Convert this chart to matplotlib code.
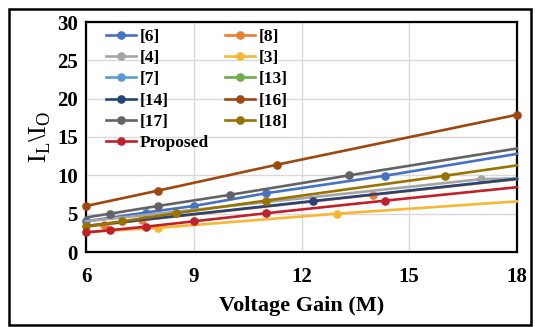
import matplotlib
matplotlib.use("Agg")
import matplotlib.pyplot as plt
from matplotlib.patches import Rectangle

plt.rcParams["font.family"] = "Liberation Serif"
plt.rcParams["font.weight"] = "bold"
plt.rcParams["mathtext.fontset"] = "custom"
plt.rcParams["mathtext.rm"] = "Liberation Serif:bold"
plt.rcParams["mathtext.bf"] = "Liberation Serif:bold"

labels = ["[6]", "[8]", "[4]", "[3]", "[7]", "[13]", "[14]", "[16]", "[17]", "[18]", "Proposed"]
colors = ["#4472C4", "#ED7D31", "#A5A5A5", "#F9B633", "#5B9BD5", "#70AD47",
          "#264478", "#9E480E", "#636363", "#997300", "#C0202A"]

# voltage gain (M) and IL/IO, with the points that carry a marker
x6 = [6, 7.67, 9, 11, 14.33, 18]
y6 = [4.0, 5.15, 6.0, 7.65, 9.95, 12.8]
m6 = [0, 1, 2, 3, 4]

x8 = [6, 6.5, 7.55, 14, 18]
y8 = [3.3, 3.57, 4.15, 7.46, 9.5]
m8 = [1, 2, 3]

x4 = [6, 17, 18]
y4 = [4.0, 9.5, 9.6]
m4 = [1]

x3 = [6, 8, 13, 18]
y3 = [2.6, 3.15, 5.0, 6.6]
m3 = [1, 2]

x7, y7, m7 = [], [], []
x13, y13, m13 = [], [], []

x14 = [6, 12.33, 18]
y14 = [3.4, 6.65, 9.55]
m14 = [1]

x16 = [6, 8, 11.33, 18]
y16 = [6.0, 8.0, 11.4, 17.9]
m16 = [0, 1, 2, 3]

x17 = [6, 6.67, 8, 10, 13.33, 18]
y17 = [4.5, 5.0, 6.0, 7.45, 10.0, 13.5]
m17 = [1, 2, 3, 4]

x18 = [6, 7, 8.5, 11, 16, 18]
y18 = [3.35, 4.0, 5.05, 6.7, 9.95, 11.3]
m18 = [0, 1, 2, 3, 4]

xp = [6, 6.67, 7.67, 9, 11, 14.33, 18]
yp = [2.55, 2.85, 3.3, 4.0, 5.05, 6.7, 8.45]
mp = [0, 1, 2, 3, 4, 5]

series = [(x6, y6, m6), (x8, y8, m8), (x4, y4, m4), (x3, y3, m3), (x7, y7, m7),
          (x13, y13, m13), (x14, y14, m14), (x16, y16, m16), (x17, y17, m17),
          (x18, y18, m18), (xp, yp, mp)]

fig = plt.figure(figsize=(5.35, 3.27), dpi=100)
ax = fig.add_axes([86 / 535, 75 / 327, 431 / 535, 230 / 327])

handles = []
for (xs, ys, mk), lab, c in zip(series, labels, colors):
    h, = ax.plot(xs, ys, color=c, lw=1.9, marker="o", ms=5.2, markevery=mk if mk else None,
                 label=lab, clip_on=False, zorder=3)
    handles.append(h)

ax.set_xlim(6, 18)
ax.set_ylim(0, 30)
ax.set_xticks([6, 9, 12, 15, 18])
ax.set_yticks([0, 5, 10, 15, 20, 25, 30])
ax.grid(True, color="#D9D9D9", lw=1.0)
ax.set_axisbelow(True)
for s in ax.spines.values():
    s.set_linewidth(1.6)
    s.set_color("black")
ax.tick_params(length=0, labelsize=15)
ax.tick_params(axis="x", pad=11)
ax.tick_params(axis="y", pad=6)

ax.set_xlabel("Voltage Gain (M)", fontsize=16, fontweight="bold", labelpad=6)
ax.set_ylabel(r"I$_\mathregular{L}$\I$_\mathregular{O}$", fontsize=19, labelpad=3)

# legend filled row by row, like the original
order = list(range(0, 11, 2)) + list(range(1, 11, 2))
ax.legend([handles[i] for i in order], [labels[i] for i in order],
          ncol=2, loc="upper left", bbox_to_anchor=(0.03, 1.0), frameon=False,
          fontsize=12.5, handlelength=1.75, handletextpad=0.2, columnspacing=0.9,
          labelspacing=0.29, borderaxespad=0.0)

fig.patches.append(Rectangle((9 / 535, 2 / 327), 522 / 535, 316 / 327,
                             transform=fig.transFigure, fill=False, lw=1.8,
                             edgecolor="black"))

fig.savefig("out.png", dpi=100)
